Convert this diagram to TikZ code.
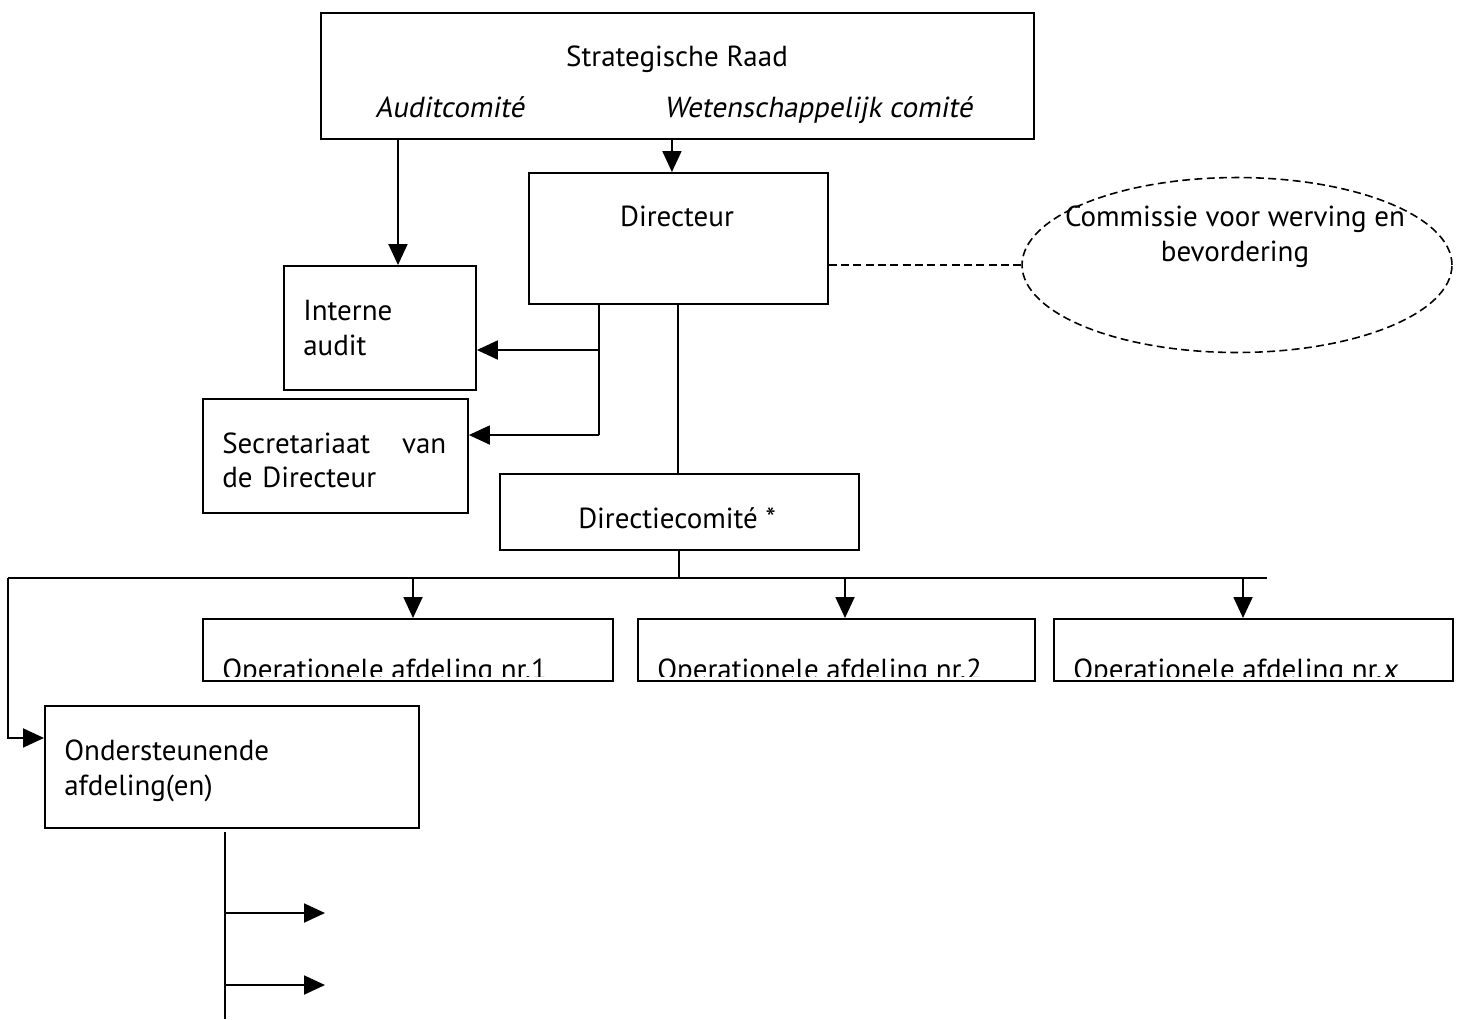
\documentclass[tikz,border=0pt]{standalone}
\usepackage{fontspec}
\setmainfont{PT Sans}[ItalicFont={PT Sans}, ItalicFeatures={FakeSlant=0.18}]
\usetikzlibrary{arrows.meta,shapes.geometric}

\tikzset{
  box/.style={draw, line width=1.1pt, inner sep=0pt, anchor=north west},
  txt/.style={anchor=base west, inner sep=0pt, align=left},
  conn/.style={line width=1.1pt},
  arr/.style={conn, -{Triangle[length=0.42cm,width=0.38cm]}},
  dashline/.style={line width=0.9pt, dash pattern=on 4.5pt off 2.5pt},
}

\begin{document}
\begin{tikzpicture}[x=0.02cm, y=-0.02cm, font=\fontsize{16.5}{19.4}\selectfont]
    \useasboundingbox (0,0) rectangle (1463,1019);

    % boxes
    \node[box, minimum width=14.26cm, minimum height=2.52cm] (raad) at (320,12) {};
    \node[box, minimum width=5.98cm, minimum height=2.62cm] (dir) at (528,172) {};
    \node[box, minimum width=3.84cm, minimum height=2.48cm] (audit) at (283,265) {};
    \node[box, minimum width=5.30cm, minimum height=2.28cm] (secr) at (202,398) {};
    \node[box, minimum width=7.18cm, minimum height=1.52cm] (dcom) at (499,473) {};
    \node[box, minimum width=7.48cm, minimum height=2.44cm] (onder) at (44,705) {};
    \node[draw, dashline, ellipse, minimum width=8.6cm, minimum height=3.5cm, inner sep=0pt] (cwb) at (1237,265) {};

    % operationele afdelingen, text cut off near the bottom edge
    \foreach \n/\x/\w/\t in {op1/202/8.20cm/1, op2/637/7.94cm/2, opx/1053/7.98cm/{\itshape x}} {
      \node[box, minimum width=\w, minimum height=1.24cm] (\n) at (\x,618) {};
      \begin{scope}
        \clip (\n.north west) rectangle ([yshift=0.1cm]\n.south east);
        \node[txt] (\n txt) at ([shift={(20,61)}]\n.north west) {Operationele afdeling nr.\t};
      \end{scope}
    }

    % texts
    \node[anchor=base, inner sep=0pt] (raadtxt) at (677,66) {Strategische Raad};
    \node[txt] (actxt) at (375,117) {\itshape Auditcomité};
    \node[txt] (wctxt) at (664,117) {\itshape Wetenschappelijk comité};
    \node[anchor=base, inner sep=0pt] (dirtxt) at (677,226) {Directeur};
    \node[anchor=base, inner sep=0pt, align=center] (cwbtxt) at (1235,261) {Commissie voor werving en\\bevordering};
    \node[txt] (audittxt) at (303,355) {Interne\\audit};
    \node[txt, text width=4.48cm] (secrtxt) at (222,453) {Secretariaat\hfill van\\de Directeur};
    \node[anchor=base, inner sep=0pt] (dcomtxt) at (677,528) {Directiecomité *};
    \node[txt] (ondertxt) at (64,795) {Ondersteunende\\afdeling(en)};

    % connectors
    \draw[arr] ([xshift=1.56cm]raad.south west) coordinate (p) -- (p |- audit.north);
    \draw[arr] ([xshift=7.04cm]raad.south west) coordinate (q) -- (q |- dir.north);
    \draw[dashline] (dir.east |- cwb.west) -- (cwb.west);

    \coordinate (b1) at (599,350);
    \coordinate (b2) at (599,435);
    \draw[conn] ([xshift=1.42cm]dir.south west) -- (b2);
    \draw[arr] (b1) -- (b1 -| audit.east);
    \draw[arr] (b2) -- (b2 -| secr.east);

    \draw[conn] (dir.south) -- (dir.south |- dcom.north);

    \coordinate (hub) at (676,578);
    \coordinate (left) at (8,578);
    \coordinate (right) at (1267,578);
    \draw[conn] (dcom.south) -- (dcom.south |- hub);
    \draw[conn] (left) -- (right);
    \foreach \n/\x in {op1/413, op2/845, opx/1243}
      \draw[arr] (\x,578) coordinate (t) -- (t |- \n.north);
    \draw[arr] (left) |- ([yshift=0.58cm]onder.west);

    \coordinate (s0) at (225,832);
    \coordinate (s3) at (225,1019);
    \draw[conn] (s0) -- (s3);
    \foreach \y [count=\i] in {913,985} {
      \coordinate (e\i) at (325,\y);
      \draw[arr] (s0 |- e\i) -- (e\i);
    }
\end{tikzpicture}
\end{document}
